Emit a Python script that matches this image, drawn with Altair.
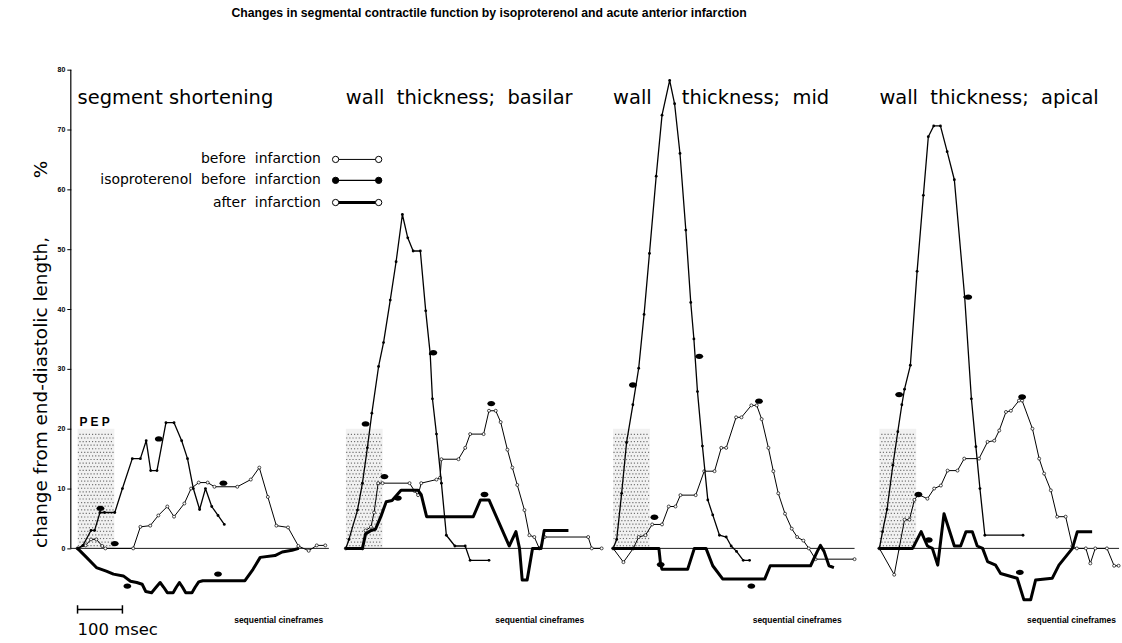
import altair as alt
import pandas as pd

FONT = "Liberation Sans"
FONT2 = "DejaVu Sans"

TITLE = "Changes in segmental contractile function by isoproterenol and acute anterior infarction"
Y_TITLE = "change from end-diastolic length," + "\u00a0" * 10 + "%"
Y_TICKS = [0, 10, 20, 30, 40, 50, 60, 70, 80]

# time axis in msec from onset, values in % change
PANEL_TITLES = [
    [(0, "segment shortening")],
    [(0, "wall\u00a0 thickness;\u00a0 basilar")],
    [(0, "wall"), (153, "thickness;\u00a0 mid")],
    [(0, "wall\u00a0 thickness;\u00a0 apical")],
]

P1_BEFORE = [(0, 0), (18, 0.5), (30, 1.5), (42, 1.5), (55, 0.4), (62, 0), (124, 0), (140, 3.6), (162, 3.8),
             (180, 5.5), (200, 7), (215, 5.3), (238, 7.5), (253, 10), (270, 11), (290, 11), (305, 10.3),
             (356, 10.3), (386, 11.5), (405, 13.5), (424, 8.6), (443, 3.8), (469, 3.5), (492, 0.4),
             (515, -0.4), (533, 0.5), (552, 0.5)]
P1_ISO = [(0, 0), (12, 0.5), (30, 3), (38, 3), (50, 6), (60, 6), (83, 6), (100, 10), (122, 15), (140, 15),
          (153, 18), (163, 13), (177, 13), (197, 21), (215, 21), (232, 18), (245, 15), (258, 10), (272, 6.5),
          (285, 10), (299, 7), (313, 5.5), (327, 4)]
P1_AFTER = [(0, 0), (20, -1.5), (42, -3.2), (64, -3.8), (80, -4.3), (102, -4.6), (118, -5.5), (132, -5.7),
            (144, -6), (152, -7.2), (165, -7.4), (175, -6.5), (184, -5.7), (192, -6.5), (200, -7.4),
            (213, -7.4), (220, -6.5), (227, -5.7), (234, -6.5), (241, -7.4), (255, -7.4), (262, -6.5),
            (270, -5.6), (279, -5.4), (373, -5.4), (391, -3.5), (407, -1.5), (440, -1.2), (456, -0.6),
            (478, -0.3), (493, 0)]

P2_BEFORE = [(0, 0), (37, 0), (44, 3), (56, 3.6), (63, 6), (72, 10.9), (82, 10.9), (142, 10.9), (153, 9.6),
             (161, 8.9), (168, 10.9), (202, 11.5), (210, 11.8), (213, 14.9), (251, 14.9), (266, 16.8),
             (277, 19.1), (307, 19.1), (319, 23), (334, 23), (345, 21.1), (360, 16.5), (371, 13.5),
             (382, 10.6), (398, 6.4), (409, 2.2), (420, 1.9), (431, 0), (443, 1.9), (540, 1.9), (548, 0),
             (570, 0)]
P2_ISO = [(0, 0), (7, 1.5), (26, 6.4), (37, 10.9), (48, 16.8), (58, 22.6), (73, 30.4), (84, 34.4), (99, 41.5),
          (112, 47.9), (126, 55.8), (138, 51.9), (150, 49.7), (166, 49.7), (178, 39.7), (188, 32.5), (193, 25),
          (202, 19.1), (213, 10.9), (224, 2.2), (243, 0.4), (266, 0.4), (277, -2), (319, -2)]
P2_AFTER = [(0, 0), (37, 0), (44, 2.4), (56, 3), (66, 3.2), (78, 5.3), (90, 7.8), (103, 8), (123, 9.7),
            (161, 9.7), (168, 9), (180, 5.3), (284, 5.3), (300, 8.1), (319, 8.1), (364, 0.4), (379, 2.8),
            (387, 0), (393, -5.3), (404, -5.3), (416, 0), (435, 0), (442, 3), (496, 3)]

P3_BEFORE = [(0, 0), (23, -2.3), (45, 0), (57, 1.9), (72, 2.2), (87, 4), (109, 4), (124, 7), (139, 7),
             (150, 8.9), (184, 8.9), (203, 12.9), (226, 12.9), (241, 16.8), (252, 16.8), (274, 21.9),
             (286, 21.9), (308, 23.9), (320, 23.9), (331, 21.6), (346, 16.8), (357, 12.9), (368, 9.2),
             (383, 5.8), (398, 3.3), (410, 1.9), (424, 1.3), (436, 0), (451, -1.8), (538, -1.8)]
P3_ISO = [(0, 0), (8, 1.5), (19, 9.2), (30, 17.7), (44, 24), (57, 30.1), (69, 39.1), (81, 49.3), (96, 62.2),
          (109, 72.4), (126, 78.2), (137, 74.3), (149, 66), (162, 53.2), (173, 41.1), (180, 35), (188, 26.2),
          (199, 17.1), (211, 8.1), (222, 5.6), (237, 2.2), (252, 1.9), (263, 0.4), (275, -0.5), (290, -2),
          (304, -2)]
P3_AFTER = [(0, 0), (102, 0), (106, -2.8), (109, -3.5), (166, -3.5), (181, 0), (207, 0), (222, -2.9),
            (244, -5.1), (338, -5.1), (350, -2.9), (440, -2.9), (455, -0.5), (462, 0.5), (470, -0.5),
            (481, -2.9), (492, -3.2)]

P4_BEFORE = [(0, 0), (33, -4.4), (44, 0), (56, 4.8), (67, 4.8), (78, 8.1), (87, 9), (107, 8.3), (122, 10),
             (137, 10.5), (152, 13), (174, 13), (189, 15), (222, 15), (241, 17.8), (256, 18), (267, 19.7),
             (282, 22.8), (293, 23), (311, 24.7), (318, 24.7), (341, 20), (356, 15), (367, 12.5), (382, 9.7),
             (396, 5.3), (415, 5.3), (430, 0.4), (440, 0), (460, 0), (470, -2.5), (481, 0), (507, 0),
             (523, -2.9), (533, -2.9)]
P4_ISO = [(0, 0), (7, 2.8), (17, 6.5), (30, 13.9), (41, 19.5), (50, 24), (56, 26.6), (69, 30.6), (84, 46.3),
          (98, 59), (109, 68.8), (121, 70.6), (136, 70.6), (151, 66.3), (167, 61.6), (190, 42), (205, 25),
          (215, 17), (224, 10), (235, 2.2), (320, 2.2)]
P4_AFTER = [(0, 0), (74, 0), (93, 2.8), (107, 0.4), (118, 0), (130, -2.8), (144, 5.8), (167, 0.4), (181, 0.4),
            (193, 2.8), (207, 2.8), (218, 0.4), (230, 0), (241, -2.2), (259, -2.8), (270, -4.2), (307, -5),
            (322, -8.6), (337, -8.6), (348, -5.3), (385, -5), (400, -2.8), (430, 0), (441, 2.8), (474, 2.8)]

# timing markers (large dots)
MARKERS = [
    [(51, 6.7), (181, 18.3), (83, 0.8), (325, 10.9), (111, -6.3), (313, -4.3)],
    [(44, 20.8), (195, 32.7), (86, 12), (324, 24.2), (116, 8.4), (309, 9)],
    [(44, 27.3), (192, 32.1), (92, 5.2), (325, 24.6), (106, -2.7), (308, -6.3)],
    [(44, 25.7), (198, 42), (87, 9), (318, 25.3), (110, 1.4), (313, -4)],
]

SERIES = [
    {"before": P1_BEFORE, "iso": P1_ISO, "after": P1_AFTER},
    {"before": P2_BEFORE, "iso": P2_ISO, "after": P2_AFTER},
    {"before": P3_BEFORE, "iso": P3_ISO, "after": P3_AFTER},
    {"before": P4_BEFORE, "iso": P4_ISO, "after": P4_AFTER},
]

PEP = (0, 82, 0, 20)
BASELINE = [(-15, 560), (-4, 573), (-4, 538), (-4, 534)]
CINE_X = [349, 333, 311, 329]

LEGEND_LABELS = ["before\u00a0 infarction", "isoproterenol\u00a0 before\u00a0 infarction", "after\u00a0 infarction"]
LEGEND_KEYS = ["before", "iso", "after"]
LEGEND_Y = [65.0, 61.5, 57.8]

# layout (0.45 px per msec, 6 px per %)
XMIN = -15
WIDTHS = [265, 264, 263, 247]
XMAX = [XMIN + w / 0.45 for w in WIDTHS]
YDOM = [-15, 80]
HEIGHT = 570

STYLE = {
    "before": dict(width=1.0, fill="white"),
    "iso": dict(width=1.3, fill="black"),
    "after": dict(width=3.0, fill="white"),
}
ELLIPSE = "M-1,0A1,0.68,0,1,1,1,0A1,0.68,0,1,1,-1,0Z"

# stipple texture for the PEP box
STIP = []
for r in range(32):
    vv = 0.45 + r * 0.6
    off = 3.5 if r % 2 else 0
    for c in range(12):
        tt = 2 + off + c * 7
        if tt < PEP[1]:
            STIP.append((tt, vv))


def panel(i):
    xs = alt.Scale(domain=[XMIN, XMAX[i]], nice=False, zero=False)
    ys = alt.Scale(domain=YDOM, nice=False, zero=False)
    if i == 0:
        yaxis = alt.Axis(values=Y_TICKS, domain=False, grid=False, ticks=True, tickSize=4,
                         tickColor="black", tickWidth=1, labelFont=FONT, labelFontSize=7,
                         labelFontWeight="bold", labelColor="black", labelPadding=2,
                         title=Y_TITLE, titleFont=FONT2, titleFontSize=18.5, titleFontWeight="normal",
                         titleColor="black", titlePadding=7)
    else:
        yaxis = None
    X = alt.X("t:Q", scale=xs, axis=None)
    X2 = alt.X2("t2")
    Y = alt.Y("v:Q", scale=ys, axis=yaxis)
    Y2 = alt.Y2("v2")

    layers = []
    pep = pd.DataFrame([{"t": PEP[0], "t2": PEP[1], "v": PEP[2], "v2": PEP[3]}])
    layers.append(alt.Chart(pep).mark_rect(color="#f1f1f1").encode(x=X, x2=X2, y=Y, y2=Y2))
    stip = pd.DataFrame({"t": [s[0] for s in STIP], "v": [s[1] for s in STIP]})
    layers.append(alt.Chart(stip).mark_square(color="#707070", size=1.4, opacity=1).encode(x=X, y=Y))

    base = pd.DataFrame([{"t": BASELINE[i][0], "t2": BASELINE[i][1], "v": 0}])
    layers.append(alt.Chart(base).mark_rule(color="black", strokeWidth=0.9).encode(x=X, x2=X2, y=Y))

    if i == 0:
        ax = pd.DataFrame([{"t": XMIN, "v": 0, "v2": 80}])
        layers.append(alt.Chart(ax).mark_rule(color="black", strokeWidth=1.2).encode(x=X, y=Y, y2=Y2))

    for key in ["before", "iso", "after"]:
        pts = SERIES[i][key]
        df = pd.DataFrame({"t": [p[0] for p in pts], "v": [p[1] for p in pts], "i": range(len(pts))})
        st = STYLE[key]
        layers.append(alt.Chart(df).mark_line(color="black", strokeWidth=st["width"], strokeJoin="round")
                      .encode(x=X, y=Y, order="i:Q"))
        if key == "iso":
            layers.append(alt.Chart(df).mark_circle(color="black", size=8, opacity=1).encode(x=X, y=Y))
        elif key == "before":
            layers.append(alt.Chart(df).mark_point(shape="circle", filled=True, fill="white", stroke="black",
                                                   strokeWidth=0.7, size=9, opacity=1).encode(x=X, y=Y))

    mk = pd.DataFrame({"t": [m[0] for m in MARKERS[i]], "v": [m[1] for m in MARKERS[i]]})
    layers.append(alt.Chart(mk).mark_point(shape=ELLIPSE, filled=True, color="black", size=62, opacity=1)
                  .encode(x=X, y=Y))

    tt = pd.DataFrame({"t": [p[0] for p in PANEL_TITLES[i]], "label": [p[1] for p in PANEL_TITLES[i]],
                       "v": [75.2] * len(PANEL_TITLES[i])})
    layers.append(alt.Chart(tt).mark_text(align="left", baseline="middle", font=FONT2, fontSize=19.5,
                                          color="black").encode(x=X, y=Y, text="label:N"))

    cine = pd.DataFrame([{"t": CINE_X[i], "v": -12.0, "label": "sequential cineframes"}])
    layers.append(alt.Chart(cine).mark_text(align="left", baseline="middle", font=FONT, fontSize=8.5,
                                            fontWeight="bold", color="black", clip=(i == 3))
                  .encode(x=X, y=Y, text="label:N"))

    if i == 0:
        pep_lab = pd.DataFrame([{"t": 38, "v": 20.0, "label": "P E P"}])
        layers.append(alt.Chart(pep_lab).mark_text(align="center", baseline="bottom", font=FONT, fontSize=12,
                                                   fontWeight="bold", color="black")
                      .encode(x=X, y=Y, text="label:N"))
        leg = pd.DataFrame({"t": [542] * 3, "v": LEGEND_Y, "label": LEGEND_LABELS})
        layers.append(alt.Chart(leg).mark_text(align="right", baseline="middle", font=FONT2, fontSize=14,
                                               color="black").encode(x=X, y=Y, text="label:N"))
        for k, key in enumerate(LEGEND_KEYS):
            st = STYLE[key]
            seg = pd.DataFrame([{"t": 575, "t2": 671, "v": LEGEND_Y[k]}])
            layers.append(alt.Chart(seg).mark_rule(color="black", strokeWidth=st["width"])
                          .encode(x=X, x2=X2, y=Y))
            ends = pd.DataFrame({"t": [575, 671], "v": [LEGEND_Y[k]] * 2})
            layers.append(alt.Chart(ends).mark_point(shape="circle", filled=True, fill=st["fill"],
                                                     stroke="black", strokeWidth=1, size=40, opacity=1)
                          .encode(x=X, y=Y))
        bar = pd.DataFrame([{"t": 0, "t2": 100, "v": -10.2}])
        layers.append(alt.Chart(bar).mark_rule(color="black", strokeWidth=1.5).encode(x=X, x2=X2, y=Y))
        bticks = pd.DataFrame({"t": [0, 100], "v": [-10.9, -10.9], "v2": [-9.5, -9.5]})
        layers.append(alt.Chart(bticks).mark_rule(color="black", strokeWidth=1.5).encode(x=X, y=Y, y2=Y2))
        ms = pd.DataFrame([{"t": 0, "v": -13.7, "label": "100 msec"}])
        layers.append(alt.Chart(ms).mark_text(align="left", baseline="middle", font=FONT2, fontSize=16.5,
                                              color="black").encode(x=X, y=Y, text="label:N"))

    return alt.layer(*layers).properties(width=WIDTHS[i], height=HEIGHT,
                                         view=alt.ViewBackground(stroke="transparent", strokeWidth=0))


chart = alt.hconcat(*[panel(i) for i in range(4)], spacing=4, bounds="flush").properties(
    title=alt.TitleParams(TITLE, font=FONT, fontSize=12.3, fontWeight="bold", color="black",
                          anchor="start", frame="group", dx=161, offset=47),
    padding={"left": 31, "top": 5, "right": 0, "bottom": 0},
).configure_view(stroke="transparent", strokeWidth=0).configure(background="white")

chart.save("out.html", embed_options={"renderer": "svg", "actions": False})
